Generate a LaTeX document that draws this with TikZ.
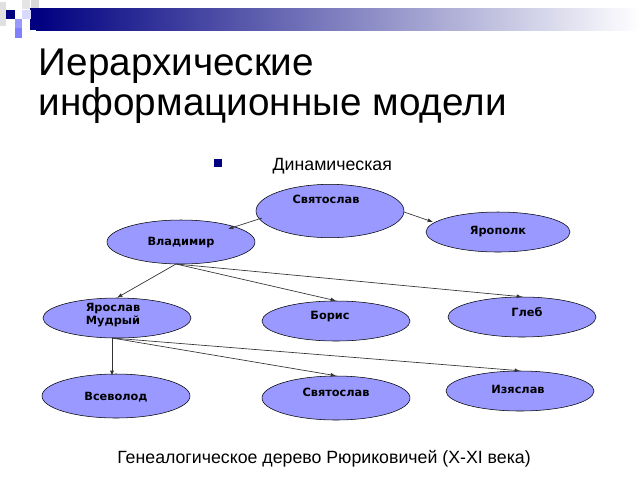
\documentclass[tikz,border=0pt]{standalone}
\usepackage{fontspec}
\setmainfont{Liberation Sans}
\newfontfamily\nodefont{DejaVu Sans}
\usetikzlibrary{shapes.geometric,arrows.meta}
\definecolor{personfill}{HTML}{9999FF}
\definecolor{navy}{HTML}{000080}
\begin{document}
\begin{tikzpicture}[x=0.75pt,y=-0.75pt,
  pers/.style={ellipse,draw=black,fill=personfill,inner sep=0pt},
  lbl/.style={font=\nodefont\bfseries\fontsize{8.5}{10}\selectfont,align=center},
  arr/.style={-{Latex[length=4pt,width=3pt]},draw=black!80,line width=0.5pt}]
\useasboundingbox (0,0) rectangle (640,480);
\fill[white] (0,0) rectangle (640,480);
% header band
\shade[left color=navy,right color=white] (36,8) rectangle (640,30);
\fill[navy] (30,8) rectangle (40,30);
\fill[navy] (6,10) rectangle (15,19);
\fill[black!12] (0,2) rectangle (6,26);
\fill[blue!15] (22,10) rectangle (31,19);
\fill[blue!40] (15,19) rectangle (22,28);
\fill[blue!50] (15,28) rectangle (22,38);
\fill[black!15] (31,0) rectangle (39,8);
\fill[black!10] (22,0) rectangle (30,9);
% title
\node[anchor=west,font=\fontsize{29}{30}\selectfont,align=left] (title) at (34,86)
  {Иерархические\\информационные модели};
\node[fill=navy,minimum size=6pt,inner sep=0pt] (bul) at (218,163) {};
\node[anchor=west,font=\fontsize{13.3}{15}\selectfont] (dyn) at (268,166) {Динамическая};
% nodes
\node[pers,minimum width=111pt,minimum height=40pt] (s1) at (330,211) {};
\node[lbl] at (326,199) {Святослав};
\node[pers,minimum width=108pt,minimum height=30pt] (yp) at (498,232) {};
\node[lbl] at (498,232) {Ярополк};
\node[pers,minimum width=111pt,minimum height=33pt] (vl) at (181,242) {};
\node[lbl] at (181,243) {Владимир};
\node[pers,minimum width=111pt,minimum height=30pt] (ym) at (117,318) {};
\node[lbl] at (113,315) {Ярослав\\Мудрый};
\node[pers,minimum width=111pt,minimum height=30pt] (bo) at (336,321) {};
\node[lbl] at (330,317) {Борис};
\node[pers,minimum width=111pt,minimum height=30pt] (gl) at (522,317) {};
\node[lbl] at (527,312) {Глеб};
\node[pers,minimum width=111pt,minimum height=33pt] (vs) at (116,396) {};
\node[lbl] at (116,397) {Всеволод};
\node[pers,minimum width=111pt,minimum height=33pt] (s2) at (336,398) {};
\node[lbl] at (336,392) {Святослав};
\node[pers,minimum width=111pt,minimum height=30pt] (iz) at (520,391) {};
\node[lbl] at (518,389) {Изяслав};
% connectors
\coordinate (vb) at (176,264);
\coordinate (yb) at (112,338);
\coordinate (f1) at (262,218);
\coordinate (f2) at (404,212);
\coordinate (t1) at (228,229);
\coordinate (t2) at (433,222);
\coordinate (t3) at (112,376);
\draw[arr] (f1) -- (t1);
\draw[arr] (f2) -- (t2);
\draw[arr] (vb) -- (ym.north);
\draw[arr] (vb) -- (bo.north);
\draw[arr] (vb) -- (gl.north);
\draw[arr] (yb) -- (t3);
\draw[arr] (yb) -- (s2.north);
\draw[arr] (yb) -- (iz.north);
\node[font=\fontsize{13.3}{15}\selectfont] (cap) at (324,459) {Генеалогическое дерево Рюриковичей (X-XI века)};
\end{tikzpicture}
\end{document}
